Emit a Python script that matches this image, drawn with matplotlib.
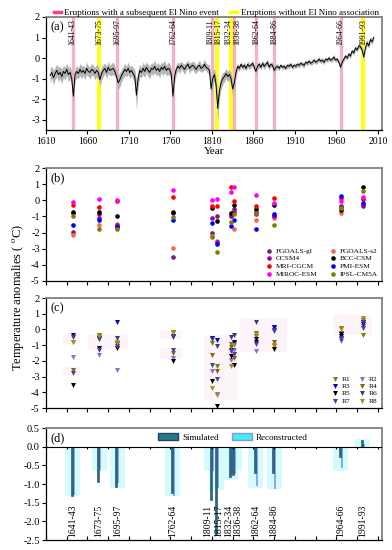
import numpy as np
import matplotlib
matplotlib.use('Agg')
import matplotlib.pyplot as plt
from matplotlib.lines import Line2D
from matplotlib.patches import Patch

plt.rcParams['font.family'] = ['Liberation Serif', 'DejaVu Serif']
plt.rcParams['axes.unicode_minus'] = False
plt.rcParams['mathtext.fontset'] = 'stix'

# ---------------- data ----------------
eruption_labels = ['1641-43', '1673-75', '1695-97', '1762-64', '1809-11', '1815-17',
                   '1832-34', '1836-38', '1862-64', '1884-86', '1964-66', '1991-93']
eruption_years = [1642, 1674, 1696, 1763, 1810, 1816, 1833, 1837, 1863, 1885, 1965, 1992]
eruption_elnino = [True, False, True, True, True, False, False, True, True, True, True, False]

# reconstructed temperature series, every 2 years from 1615
ts_start = 1615
ts_values = [
    -0.85, -0.7, -0.95, -0.75, -0.6, -0.8, -0.7, -0.9, -0.65, -0.75, -0.55, -0.8, -0.7,
    -1.0, -1.85,
    -0.8, -0.65, -0.75, -0.55, -0.7, -0.6, -0.75, -0.5, -0.65, -0.7, -0.55, -0.6, -0.75, -0.6,
    -0.7, -1.05, -0.75,
    -0.6, -0.5, -0.7, -0.45, -0.6, -0.55, -0.5, -0.65,
    -0.9, -1.2, -1.05, -0.85,
    -0.7, -0.55, -0.65, -0.5, -0.7, -0.6, -0.75,
    -0.9, -1.8, -1.0,
    -0.6, -0.7, -0.5, -0.65, -0.45, -0.6, -0.7, -0.5, -0.55, -0.4, -0.6, -0.5, -0.65, -0.45,
    -0.55, -0.4, -0.6, -0.5, -0.55,
    -0.8, -1.85, -0.9,
    -0.55, -0.4, -0.5, -0.35, -0.45, -0.55, -0.4, -0.3, -0.5, -0.4, -0.35, -0.45, -0.55, -0.4,
    -0.35, -0.5, -0.45, -0.3, -0.45, -0.5, -0.6,
    -1.5, -1.0, -0.8, -1.3, -2.45, -1.6, -1.2, -1.0, -0.9, -0.75, -0.9, -0.8, -1.0, -1.5, -1.2, -0.7,
    -0.4, -0.5, -0.3, -0.45, -0.35, -0.5, -0.3, -0.4, -0.35, -0.25, -0.45,
    -0.65, -0.4,
    -0.3, -0.45, -0.25, -0.4, -0.3, -0.2, -0.45, -0.3, -0.35,
    -0.6, -0.45,
    -0.4, -0.5, -0.35, -0.45, -0.4, -0.5, -0.35, -0.4, -0.3, -0.45,
    -0.35, -0.4, -0.3, -0.35, -0.25, -0.3, -0.35, -0.2, -0.25, -0.15,
    -0.25, -0.2, -0.1, -0.2, -0.15, -0.05, -0.15, -0.1, -0.2, -0.05,
    -0.1, 0.0, -0.1, -0.05, 0.05, -0.1, -0.05,
    -0.2, -0.45, -0.2,
    -0.05, 0.1, 0.0, 0.2, 0.1, 0.35, 0.25, 0.5, 0.4, 0.6, 0.55,
    0.4, 0.05, 0.5, 0.75, 0.6, 0.9, 0.8, 1.0,
]
ts_spread = [
    0.35, 0.3, 0.35, 0.3, 0.3, 0.35, 0.3, 0.35, 0.3, 0.3, 0.3, 0.35, 0.3,
    0.35, 0.3,
    0.3, 0.3, 0.25, 0.3, 0.3, 0.25, 0.3, 0.3, 0.25, 0.3, 0.3, 0.25, 0.3, 0.3,
    0.3, 0.35, 0.3,
    0.3, 0.25, 0.3, 0.3, 0.25, 0.3, 0.3, 0.25,
    0.3, 0.35, 0.35, 0.3,
    0.3, 0.3, 0.25, 0.3, 0.3, 0.25, 0.3,
    0.35, 0.7, 0.4,
    0.3, 0.25, 0.3, 0.3, 0.25, 0.3, 0.3, 0.25, 0.3, 0.3, 0.25, 0.3, 0.3, 0.25,
    0.3, 0.3, 0.25, 0.3, 0.3,
    0.3, 0.35, 0.3,
    0.25, 0.2, 0.25, 0.2, 0.2, 0.25, 0.2, 0.2, 0.25, 0.2, 0.2, 0.25, 0.2, 0.2,
    0.25, 0.2, 0.2, 0.25, 0.2, 0.2, 0.25,
    0.5, 0.35, 0.3, 0.35, 0.6, 0.4, 0.3, 0.3, 0.25, 0.25, 0.25, 0.25, 0.3, 0.35, 0.3, 0.25,
    0.15, 0.15, 0.12, 0.15, 0.15, 0.12, 0.15, 0.15, 0.12, 0.15, 0.15,
    0.15, 0.15,
    0.15, 0.12, 0.15, 0.15, 0.12, 0.15, 0.15, 0.12, 0.15,
    0.15, 0.15,
    0.12, 0.12, 0.1, 0.12, 0.12, 0.1, 0.12, 0.12, 0.1, 0.12,
    0.12, 0.1, 0.12, 0.12, 0.1, 0.12, 0.12, 0.1, 0.12, 0.12,
    0.1, 0.12, 0.12, 0.1, 0.12, 0.12, 0.1, 0.12, 0.12, 0.1,
    0.12, 0.12, 0.1, 0.12, 0.12, 0.1, 0.12,
    0.12, 0.15, 0.12,
    0.12, 0.12, 0.1, 0.12, 0.12, 0.1, 0.12, 0.12, 0.1, 0.12, 0.12,
    0.15, 0.15, 0.12, 0.15, 0.12, 0.15, 0.12, 0.15,
]

# panel b: model simulations at each eruption
models = ['FGOALS-gl', 'FGOALS-s2', 'CCSM4', 'BCC-CSM', 'MRI-CGCM', 'PMI-ESM', 'MIROC-ESM', 'IPSL-CM5A']
model_colors = ['#7a1a7a', '#f56a4a', '#a000a0', '#000000', '#ff0000', '#0000ff', '#ff00ff', '#808000']
fgoals_gl = [-1.95, -0.85, -1.6, -3.5, -2.0, -0.96, -0.88, -0.55, -0.75, -0.95, -0.35, -0.35]
fgoals_s2 = [-2.15, -1.55, -1.45, -2.95, -2.2, -2.55, -1.0, -1.77, -1.2, -1.1, -0.8, 0.1]
ccsm4 = [-0.8, -1.1, -1.55, -0.8, -1.07, -2.6, -0.95, -0.7, -0.85, -1.0, -0.4, -0.25]
bcc_csm = [-0.75, -0.7, -1.0, -0.72, -0.45, -1.31, -0.8, -0.3, -0.55, -0.28, -0.6, 0.8]
mri_cgcm = [-0.3, -0.4, -0.05, 0.2, -0.35, -0.33, 0.8, -0.04, -0.33, 0.13, 0.13, 0.05]
pmi_esm = [-1.5, -1.25, -1.65, -1.2, -1.42, -2.7, -1.58, -1.25, -1.78, -0.84, 0.29, -0.14]
miroc_esm = [-0.1, 0.05, 0.0, 0.65, 0.02, 0.07, 0.5, 0.8, 0.35, -0.15, -0.05, 0.23]
ipsl_cm5a = [-0.95, -1.75, -1.75, -1.05, -2.3, -3.2, -1.35, -0.84, -0.8, -1.52, -0.49, 0.6]
model_values = [fgoals_gl, fgoals_s2, ccsm4, bcc_csm, mri_cgcm, pmi_esm, miroc_esm, ipsl_cm5a]

# panel c: realizations
runs = ['R1', 'R2', 'R3', 'R4', 'R5', 'R6', 'R7', 'R8']
run_colors = ['#808000', '#8a6fd8', '#0000cd', '#8b6508', '#000000', '#3c3c7c', '#4b3fa8', '#a09020']
r1 = [-0.78, -0.36, -0.89, -0.14, -0.89, -2.35, -0.94, -0.89, -0.25, -1.07, 0.07, -0.36]
r2 = [-1.75, -1.6, -2.6, -1.79, -2.67, -4.1, -1.97, -1.3, -1.39, 0.1, -0.72, 0.23]
r3 = [-0.36, -0.57, 0.46, -0.42, -0.57, -0.68, -1.32, -0.8, -0.78, 0.18, -0.42, 0.33]
r4 = [-2.56, -0.45, -0.95, -1.49, -1.64, -2.67, -1.1, -1.79, -0.4, -0.79, -0.21, 0.6]
r5 = [-3.52, -1.15, -1.15, -2.0, -3.25, -4.86, -1.71, -2.29, -0.63, -1.22, -0.3, 0.5]
r6 = [-0.46, -0.63, -0.57, -0.48, -0.6, -1.05, -0.47, -0.36, 0.46, -0.04, -0.55, 0.46]
r7 = [-2.78, -1.28, -1.05, -1.28, -2.27, -3.17, -1.4, -1.55, -0.94, -0.1, -0.64, 0.07]
r8 = [-0.8, -0.4, -0.8, -0.2, -3.72, -4.2, -2.3, -1.0, -0.3, -1.0, 0.0, 0.71]
run_values = [r1, r2, r3, r4, r5, r6, r7, r8]

# faint pink ranges behind panel c clusters: (x0, x1, y_top, y_bottom)
pink_x0 = [1631, 1631, 1661, 1747, 1747, 1800, 1844, 1956]
pink_x1 = [1651, 1651, 1709, 1774, 1774, 1840, 1901, 2003]
pink_top = [-0.2, -2.4, -0.35, -0.05, -1.15, -0.35, 0.7, 0.9]
pink_bot = [-0.95, -2.9, -1.3, -0.6, -1.9, -4.5, -1.45, -0.35]

# panel d: simulated vs reconstructed
simulated = [-1.32, -0.95, -1.07, -1.23, -1.42, -2.36, -0.81, -0.76, -0.71, -0.71, -0.29, 0.17]
reconstructed = [-1.30, -0.62, -0.98, -1.32, -0.66, -1.10, -0.72, -0.74, -1.05, -1.14, -0.57, 0.08]
reconstructed_range = [-1.32, -0.65, -1.1, -1.32, -0.66, -1.15, -0.9, -0.66, -1.1, -1.13, -0.66, 0.2]

# label nudges (years) to keep close eruptions readable
label_shift_a = [0, 0, 0, 0, -1.5, 2.0, -3.0, 3.0, 0, 0, 0, 0]
label_shift_d = [0, 0, 0, 0, -5.5, 1.8, -2.2, 3.5, 0, 0, 0, 0]

# ---------------- figure ----------------
fig = plt.figure(figsize=(3.92, 5.5), dpi=100)
L, W = 46 / 392, 336 / 392
axa = fig.add_axes([L, 1 - 130 / 550, W, 113 / 550])
axb = fig.add_axes([L, 1 - 281 / 550, W, 113 / 550])
axc = fig.add_axes([L, 1 - 408 / 550, W, 110 / 550])
axd = fig.add_axes([L, 1 - 540 / 550, W, 112 / 550])

XMIN, XMAX = 1610, 2015
PINK = '#f7b0c4'
YELLOW = '#ffff1a'


def style(ax, xdir='out'):
    ax.set_xlim(XMIN, XMAX)
    for s in ['left', 'bottom']:
        ax.spines[s].set_color('black')
        ax.spines[s].set_linewidth(0.9)
    for s in ['top', 'right']:
        ax.spines[s].set_color('#808080')
        ax.spines[s].set_linewidth(1.3)
    ax.tick_params(axis='y', direction='out', length=3, width=0.8, labelsize=7.5, pad=1.5)
    ax.tick_params(axis='x', direction=xdir, length=3, width=0.8, labelsize=7, pad=2)


def rowmajor(items, ncol):
    return [items[i] for c in range(ncol) for i in range(c, len(items), ncol)]


# ----- panel a -----
style(axa)
for yr, en in zip(eruption_years, eruption_elnino):
    if en:
        axa.axvline(yr, color=PINK, lw=2.3, zorder=1)
    else:
        axa.axvline(yr, color=YELLOW, lw=3.0, zorder=1)
ts_years = ts_start + 2 * np.arange(len(ts_values))
vals = np.array(ts_values)
spr = np.array(ts_spread[:len(ts_values)])
axa.fill_between(ts_years, vals - spr, vals + spr, color='#b4b4b4', lw=0, zorder=2)
axa.plot(ts_years, vals, color='black', lw=0.7, zorder=3)
for yr, lab, dx in zip(eruption_years, eruption_labels, label_shift_a):
    axa.text(yr + dx, 1.9, lab, rotation=90, ha='center', va='top', fontsize=5.6, zorder=4)
axa.set_ylim(-3.5, 2)
axa.set_yticks([2, 1, 0, -1, -2, -3])
axa.set_xticks(np.arange(1610, 2011, 50))
axa.set_xlabel('Year', fontsize=8, labelpad=1)
axa.text(0.012, 0.96, '(a)', transform=axa.transAxes, fontsize=9, va='top', ha='left')
hand_a = [Line2D([], [], color='#ff3d8b', lw=2.5),
          Line2D([], [], color='#ffff00', lw=2.5)]
axa.legend(hand_a, ['Eruptions with a subsequent El Nino event',
                    'Eruptions without El Nino association'],
           loc='lower left', bbox_to_anchor=(0.02, 0.99), ncol=2, frameon=False,
           fontsize=6.5, handlelength=0.8, handletextpad=0.4, columnspacing=1.2,
           borderaxespad=0, borderpad=0.1)

# ----- panel b -----
style(axb)
hb = []
for name, col, v in zip(models, model_colors, model_values):
    hb.append(axb.scatter(eruption_years, v, s=11, color=col, label=name, zorder=3, linewidths=0))
axb.set_ylim(-5, 2)
axb.set_yticks([2, 1, 0, -1, -2, -3, -4, -5])
axb.set_xticks(np.arange(1610, 2011, 25))
axb.set_xticklabels([])
axb.text(0.012, 0.96, '(b)', transform=axb.transAxes, fontsize=9, va='top', ha='left')
axb.legend(rowmajor(hb, 2), rowmajor(models, 2), loc='lower right', ncol=2, frameon=False,
           fontsize=5.3, handletextpad=0.3, columnspacing=1.5, labelspacing=0.2,
           borderaxespad=0.2, handlelength=1.2, scatterpoints=1)

# ----- panel c -----
style(axc)
for x0, x1, yt, yb in zip(pink_x0, pink_x1, pink_top, pink_bot):
    axc.bar(x0, yt - yb, width=x1 - x0, bottom=yb, align='edge', color='#fdf4fa', lw=0, zorder=1)
hc = []
for name, col, v in zip(runs, run_colors, run_values):
    hc.append(axc.scatter(eruption_years, v, s=13, marker='v', color=col, label=name,
                          zorder=3, linewidths=0))
axc.set_ylim(-5, 2)
axc.set_yticks([2, 1, 0, -1, -2, -3, -4, -5])
axc.set_xticks(np.arange(1610, 2011, 25))
axc.set_xticklabels([])
axc.text(0.012, 0.96, '(c)', transform=axc.transAxes, fontsize=9, va='top', ha='left')
axc.legend(rowmajor(hc, 2), rowmajor(runs, 2), loc='lower right', ncol=2, frameon=False,
           fontsize=5.3, handletextpad=0.3, columnspacing=1.0, labelspacing=0.15,
           borderaxespad=0.2, handlelength=1.2, scatterpoints=1)

# ----- panel d -----
style(axd, xdir='in')
ey = np.array(eruption_years, dtype=float)
axd.bar(ey, reconstructed_range, width=18, color='#c6fbfb', alpha=0.75, lw=0, zorder=1)
axd.bar(ey + 1.3, reconstructed, width=2.3, color='#8ea6ec', lw=0, zorder=2)
axd.bar(ey - 1.1, simulated, width=2.3, color='#236d78', edgecolor='#263f78', lw=0.4, zorder=3)
axd.axhline(0, color='black', lw=0.8, zorder=4)
xt = np.arange(1610, 2011, 25)
axd.vlines(xt, -0.07, 0, color='black', lw=0.8, zorder=4)
for yr, lab, dx in zip(eruption_years, eruption_labels, label_shift_d):
    axd.text(yr + dx, -1.55, lab, rotation=90, ha='center', va='top', fontsize=7, zorder=5)
axd.set_ylim(-2.5, 0.5)
axd.set_yticks([0.5, 0.0, -0.5, -1.0, -1.5, -2.0, -2.5])
axd.set_yticklabels(['%.1f' % t for t in [0.5, 0.0, -0.5, -1.0, -1.5, -2.0, -2.5]])
axd.set_xticks(xt)
axd.set_xticklabels([])
axd.text(0.012, 0.96, '(d)', transform=axd.transAxes, fontsize=9, va='top', ha='left')
hand_d = [Patch(facecolor='#267a80', edgecolor='#28407a', lw=1.0),
          Patch(facecolor='#40f0f0', edgecolor='#9090e0', lw=1.0)]
axd.legend(hand_d, ['Simulated', 'Reconstructed'], loc='upper left',
           bbox_to_anchor=(0.32, 1.0), ncol=2, frameon=False, fontsize=6.5,
           handlelength=2.2, handleheight=0.9, handletextpad=0.4, columnspacing=1.5,
           borderaxespad=0.15)

fig.text(0.045, 0.46, r'Temperature anomalies ( $^{\rm o}$C)', rotation=90,
         ha='center', va='center', fontsize=9)

fig.savefig('out.png', dpi=100)
